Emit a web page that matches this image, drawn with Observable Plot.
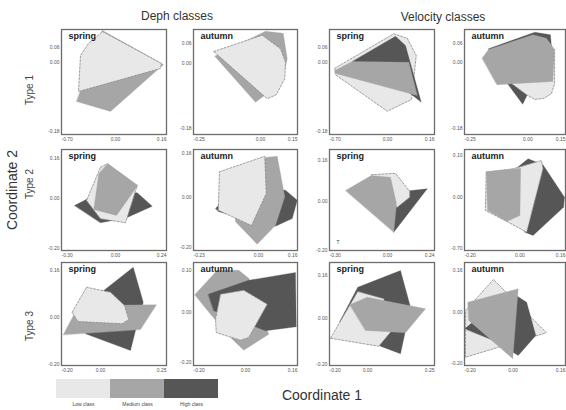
<!DOCTYPE html>
<html><head><meta charset="utf-8">
<script src="https://cdn.jsdelivr.net/npm/d3@7"></script>
<script src="https://cdn.jsdelivr.net/npm/@observablehq/plot@0.6"></script>
<style>
body{margin:0;background:#fff;}
#fig{position:relative;width:566px;height:410px;overflow:hidden;font-family:"Liberation Sans",Arial,sans-serif;background:#fff;}
.lbl{position:absolute;white-space:nowrap;color:#333;transform:translate(-50%,-50%);line-height:1;}
.rot{transform:translate(-50%,-50%) rotate(-90deg);}
</style></head><body><div id="fig"></div>
<script>
// ---------- data ----------
const groups = ["Deph classes", "Velocity classes"];
const rowLabels = ["Type 1", "Type 2", "Type 3"];
const seasons = ["spring", "autumn", "spring", "autumn"];
const classes = ["Low class", "Medium class", "High class"];
const axisTitles = ["Coordinate 1", "Coordinate 2"];

// panels row-major: Type1 (depth spring, depth autumn, velocity spring, velocity autumn), Type2 ..., Type3 ...
const lowHulls = [
  [[-0.052,0.124],[0.184,-0.004],[0.18,-0.024],[-0.148,-0.116],[-0.14,0.028],[-0.108,0.076]],
  [[-0.187,0.048],[0.007,0.113],[0.08,0.059],[0.1,0.005],[0.097,-0.061],[0.063,-0.125],[0.027,-0.141]],
  [[-0.211,-0.023],[0.025,0.115],[0.079,0.097],[0.115,0.028],[0.096,-0.148],[-0.001,-0.195],[-0.208,-0.049]],
  [[-0.065,-0.085],[0.055,0.068],[0.108,0.052],[0.108,-0.085],[0.095,-0.125],[0.065,-0.143],[0.028,-0.148],[-0.005,-0.129]],
  [[-0.06,0.125],[-0.033,0.139],[0.087,0.052],[0.04,-0.097],[-0.06,-0.081],[-0.116,-0.008]],
  [[-0.156,0.103],[0.025,0.165],[0.031,0.016],[-0.028,-0.112],[-0.161,-0.051]],
  [[-0.065,0.107],[0.032,0.113],[0.089,0.04],[0.089,0.017],[0.039,-0.023],[-0.028,-0.003]],
  [[-0.136,0.101],[-0.027,0.115],[0.087,0.148],[0.093,0.115],[0.027,-0.139],[-0.053,-0.096],[-0.14,-0.052]],
  [[-0.113,0.021],[-0.056,0.121],[0.04,0.101],[0.096,0.048],[0.113,-0.008],[0.087,-0.025],[-0.091,-0.016]],
  [[-0.12,-0.027],[-0.1,0.073],[-0.007,0.089],[0.087,0.033],[0.013,-0.1],[-0.02,-0.111],[-0.117,-0.08]],
  [[-0.148,-0.079],[-0.039,0.108],[0.065,0.079],[0.092,-0.055],[0.045,-0.111]],
  [[-0.192,-0.179],[-0.192,0.008],[-0.079,0.132],[0.135,-0.081]]
];
const mediumHulls = [
  [[-0.052,0.128],[0.192,-0.008],[-0.02,-0.196],[-0.156,-0.156]],
  [[0.02,0.129],[0.091,0.121],[0.107,0.019],[0.087,-0.075],[-0.02,-0.155],[-0.183,0.029]],
  [[-0.211,-0.032],[-0.141,0.004],[0.085,0.001],[0.119,-0.132],[-0.208,-0.044]],
  [[-0.185,0.017],[-0.159,0.052],[0.021,0.111],[0.075,0.097],[0.108,0.052],[0.101,-0.076],[-0.125,-0.089]],
  [[-0.031,0.14],[0.089,0.052],[0.004,-0.068],[-0.087,-0.044],[-0.067,0.099]],
  [[0.025,0.16],[0.075,0.165],[0.105,0.003],[0.068,-0.111],[-0.005,-0.187],[-0.092,-0.097],[-0.105,0.016]],
  [[-0.168,0.044],[-0.065,0.104],[0.012,0.097],[0.036,-0.009],[0.025,-0.123]],
  [[-0.136,0.104],[0.003,0.117],[0,-0.072],[-0.053,-0.096],[-0.131,-0.052]],
  [[-0.149,-0.069],[-0.087,0.048],[0.224,0.051],[0.16,-0.048]],
  [[-0.203,0.071],[-0.113,0.169],[-0.027,0.169],[0.013,0.137],[0.093,-0.087],[-0.007,-0.151],[-0.053,-0.107],[-0.14,-0.007]],
  [[-0.071,0.055],[-0.001,0.085],[0.232,0.039],[0.152,-0.057],[-0.008,-0.048]],
  [[-0.183,0.041],[0.021,0.095],[-0.001,-0.185],[-0.179,-0.032]]
];
const highHulls = [
  [],
  [],
  [[-0.141,0.004],[0.032,0.105],[0.072,0.068],[0.135,-0.159],[0.06,-0.1]],
  [[-0.159,0.055],[0.028,0.121],[0.091,0.111],[0.095,0.068],[-0.021,-0.167],[-0.079,-0.089]],
  [[-0.164,-0.028],[-0.087,0.012],[0.087,0.023],[0.147,-0.031],[0.04,-0.079],[-0.06,-0.097]],
  [[-0.172,-0.044],[-0.092,0.043],[0.108,0.029],[0.155,-0.011],[0.135,-0.084],[0.068,-0.115],[-0.159,-0.057]],
  [[0.012,0.035],[0.159,0.051],[0.025,-0.123]],
  [[-0.047,0.091],[0.033,0.155],[0.093,0.131],[0.18,0.001],[0.176,-0.039],[0.053,-0.152],[0.02,-0.139]],
  [[0.013,0.108],[0.131,0.201],[0.171,0.061],[0.14,-0.052],[0.12,-0.132],[-0.06,-0.065]],
  [[-0.149,0.073],[0.013,0.129],[0.2,0.16],[0.203,-0.057],[0.08,-0.073],[-0.127,0.007]],
  [[-0.111,-0.012],[-0.039,0.125],[0.132,0.192],[0.172,0.045],[0.132,-0.141],[0.052,-0.111]],
  [[-0.195,-0.065],[-0.012,0.084],[0.055,0.041],[0.092,-0.092],[0.021,-0.172],[-0.079,-0.112]]
];
const xTickLabels = [
  ["-0.70","0.00","0.16"],["-0.25","0.00","0.15"],["-0.70","0.00","0.16"],["-0.25","0.00","0.15"],
  ["-0.30","0.00","0.24"],["-0.23","0.00","0.16"],["-0.30","0.00","0.24"],["-0.20","0.00","0.16"],
  ["-0.20","0.00","0.25"],["-0.20","0.00","0.16"],["-0.20","0.00","0.25"],["-0.20","0.00","0.16"]
];
const yTickLabels = [
  ["0.06","0.00","-0.18"],["0.06","0.00","-0.18"],["0.06","0.00","-0.18"],["0.06","0.00","-0.18"],
  ["0.16","0.00","-0.20"],["0.16","0.00","-0.20"],["0.16","0.00","-0.20"],["0.10","0.00","-0.70"],
  ["0.16","0.00","-0.20"],["0.10","0.00","-0.20"],["0.16","0.00","-0.20"],["0.16","0.00","-0.20"]
];
const cornerNotes = ["","","","","","","T","","","","",""];

// ---------- scales & layout ----------
const xDomains = [
  [-0.216,0.204],[-0.268,0.148],[-0.232,0.188],[-0.256,0.152],
  [-0.216,0.204],[-0.26,0.156],[-0.232,0.188],[-0.224,0.184],
  [-0.156,0.264],[-0.208,0.208],[-0.152,0.268],[-0.196,0.212]
];
const yDomains = [
  [-0.288,0.132],[-0.284,0.136],[-0.288,0.132],[-0.288,0.132],
  [-0.208,0.196],[-0.212,0.192],[-0.196,0.208],[-0.212,0.192],
  [-0.192,0.22],[-0.212,0.2],[-0.188,0.224],[-0.212,0.2]
];
const yTickValues = [
  [0.06,0,-0.276],[0.08,0,-0.26],[0.06,0,-0.276],[0.076,0,-0.264],
  [0.16,0,-0.2],[0.176,0,-0.2],[0.164,0,-0.196],[0.168,0,-0.204],
  [0.188,0,-0.188],[0.168,0,-0.2],[0.172,0,-0.184],[0.168,0,-0.204]
];
const drawOrder = [
  [1,0],[1,0],[0,2,1],[2,0,1],
  [2,0,1],[2,1,0],[2,0,1],[2,0,1],
  [2,1,0],[1,2,0],[2,0,1],[0,2,1]
];
const colLeft = [61,193,329,464], colRight = [166,297,434,565];
const rowTop = [29,149,262], rowBottom = [134,250,365];
const ML = 26, MR = 2, MT = 2, MB = 12;
const fills = ["#e8e8e8","#a6a6a6","#565656"];
const hullSets = [lowHulls, mediumHulls, highHulls];
const FONT = '"Liberation Sans", Arial, sans-serif';

const fig = document.getElementById("fig");
function addLabel(text, x, y, size, rot, color, weight) {
  const d = document.createElement("div");
  d.className = "lbl" + (rot ? " rot" : "");
  d.textContent = text;
  d.style.left = x + "px"; d.style.top = y + "px";
  d.style.fontSize = size + "px";
  d.style.color = color || "#333";
  if (weight) d.style.fontWeight = weight;
  fig.appendChild(d);
}

for (let i = 0; i < 12; i++) {
  const r = Math.floor(i / 4), c = i % 4;
  const w = colRight[c] - colLeft[c], h = rowBottom[r] - rowTop[r];
  const [xl, xh] = xDomains[i];
  const xt = xTickLabels[i], yt = yTickLabels[i], yv = yTickValues[i];
  const yMap = new Map(yv.map((v, j) => [v, yt[j]]));
  const marks = [];
  for (const k of drawOrder[i]) {
    const pts = hullSets[k][i].map(([x, y]) => ({x, y}));
    if (!pts.length) continue;
    const opts = {x: "x", y: "y", curve: "linear-closed", fill: fills[k]};
    if (k === 0) Object.assign(opts, {stroke: "#8a8a8a", strokeWidth: 0.8, strokeDasharray: "2,1.6"});
    else Object.assign(opts, {stroke: fills[k], strokeWidth: 0.3});
    marks.push(Plot.line(pts, opts));
  }
  const ax = {tickSize: 0, tickPadding: 3, fontSize: 5, label: null};
  marks.push(
    Plot.axisX([xl], {...ax, textAnchor: "start", tickFormat: () => xt[0]}),
    Plot.axisX([0], {...ax, tickFormat: () => xt[1]}),
    Plot.axisX([xh], {...ax, textAnchor: "end", tickFormat: () => xt[2]}),
    Plot.axisY(yv, {tickSize: 0, tickPadding: 2, fontSize: 5, label: null, tickFormat: d => yMap.get(d)}),
    Plot.text([seasons[c]], {frameAnchor: "top-left", dx: 7, dy: 3, lineAnchor: "top", fontSize: 9, fontWeight: "bold", fill: "#222"}),
    Plot.frame({stroke: "#6c6c6c", strokeWidth: 1.3})
  );
  if (cornerNotes[i]) marks.push(Plot.text([cornerNotes[i]], {frameAnchor: "bottom-left", dx: 7, dy: -7, fontSize: 5, fill: "#444"}));
  const svg = Plot.plot({
    width: w + ML + MR, height: h + MT + MB,
    marginLeft: ML, marginRight: MR, marginTop: MT, marginBottom: MB,
    x: {domain: xDomains[i], label: null},
    y: {domain: yDomains[i], label: null},
    style: {background: "transparent", fontFamily: FONT, fontSize: "5px", color: "#555", overflow: "visible"},
    marks
  });
  svg.style.position = "absolute";
  svg.style.left = (colLeft[c] - ML) + "px";
  svg.style.top = (rowTop[r] - MT) + "px";
  fig.appendChild(svg);
}

// legend
const leg = Plot.plot({
  width: 163, height: 31,
  marginLeft: 0, marginRight: 0, marginTop: 0, marginBottom: 12,
  x: {domain: classes, padding: 0, label: null, tickSize: 0, tickPadding: 4},
  color: {domain: classes, range: fills},
  style: {background: "transparent", fontFamily: FONT, fontSize: "5px", color: "#444", overflow: "visible"},
  marks: [Plot.cell(classes, {x: d => d, fill: d => d})]
});
leg.style.position = "absolute"; leg.style.left = "55px"; leg.style.top = "379px";
fig.appendChild(leg);

// titles
addLabel(groups[0], 177, 16, 12, false, "#333");
addLabel(groups[1], 443, 17, 12, false, "#333");
addLabel(rowLabels[0], 30, 90, 10, true, "#444");
addLabel(rowLabels[1], 30, 184, 10, true, "#444");
addLabel(rowLabels[2], 30, 326, 10, true, "#444");
addLabel(axisTitles[1], 12, 190, 14, true, "#333");
addLabel(axisTitles[0], 322, 395, 14, false, "#333");
</script></body></html>
